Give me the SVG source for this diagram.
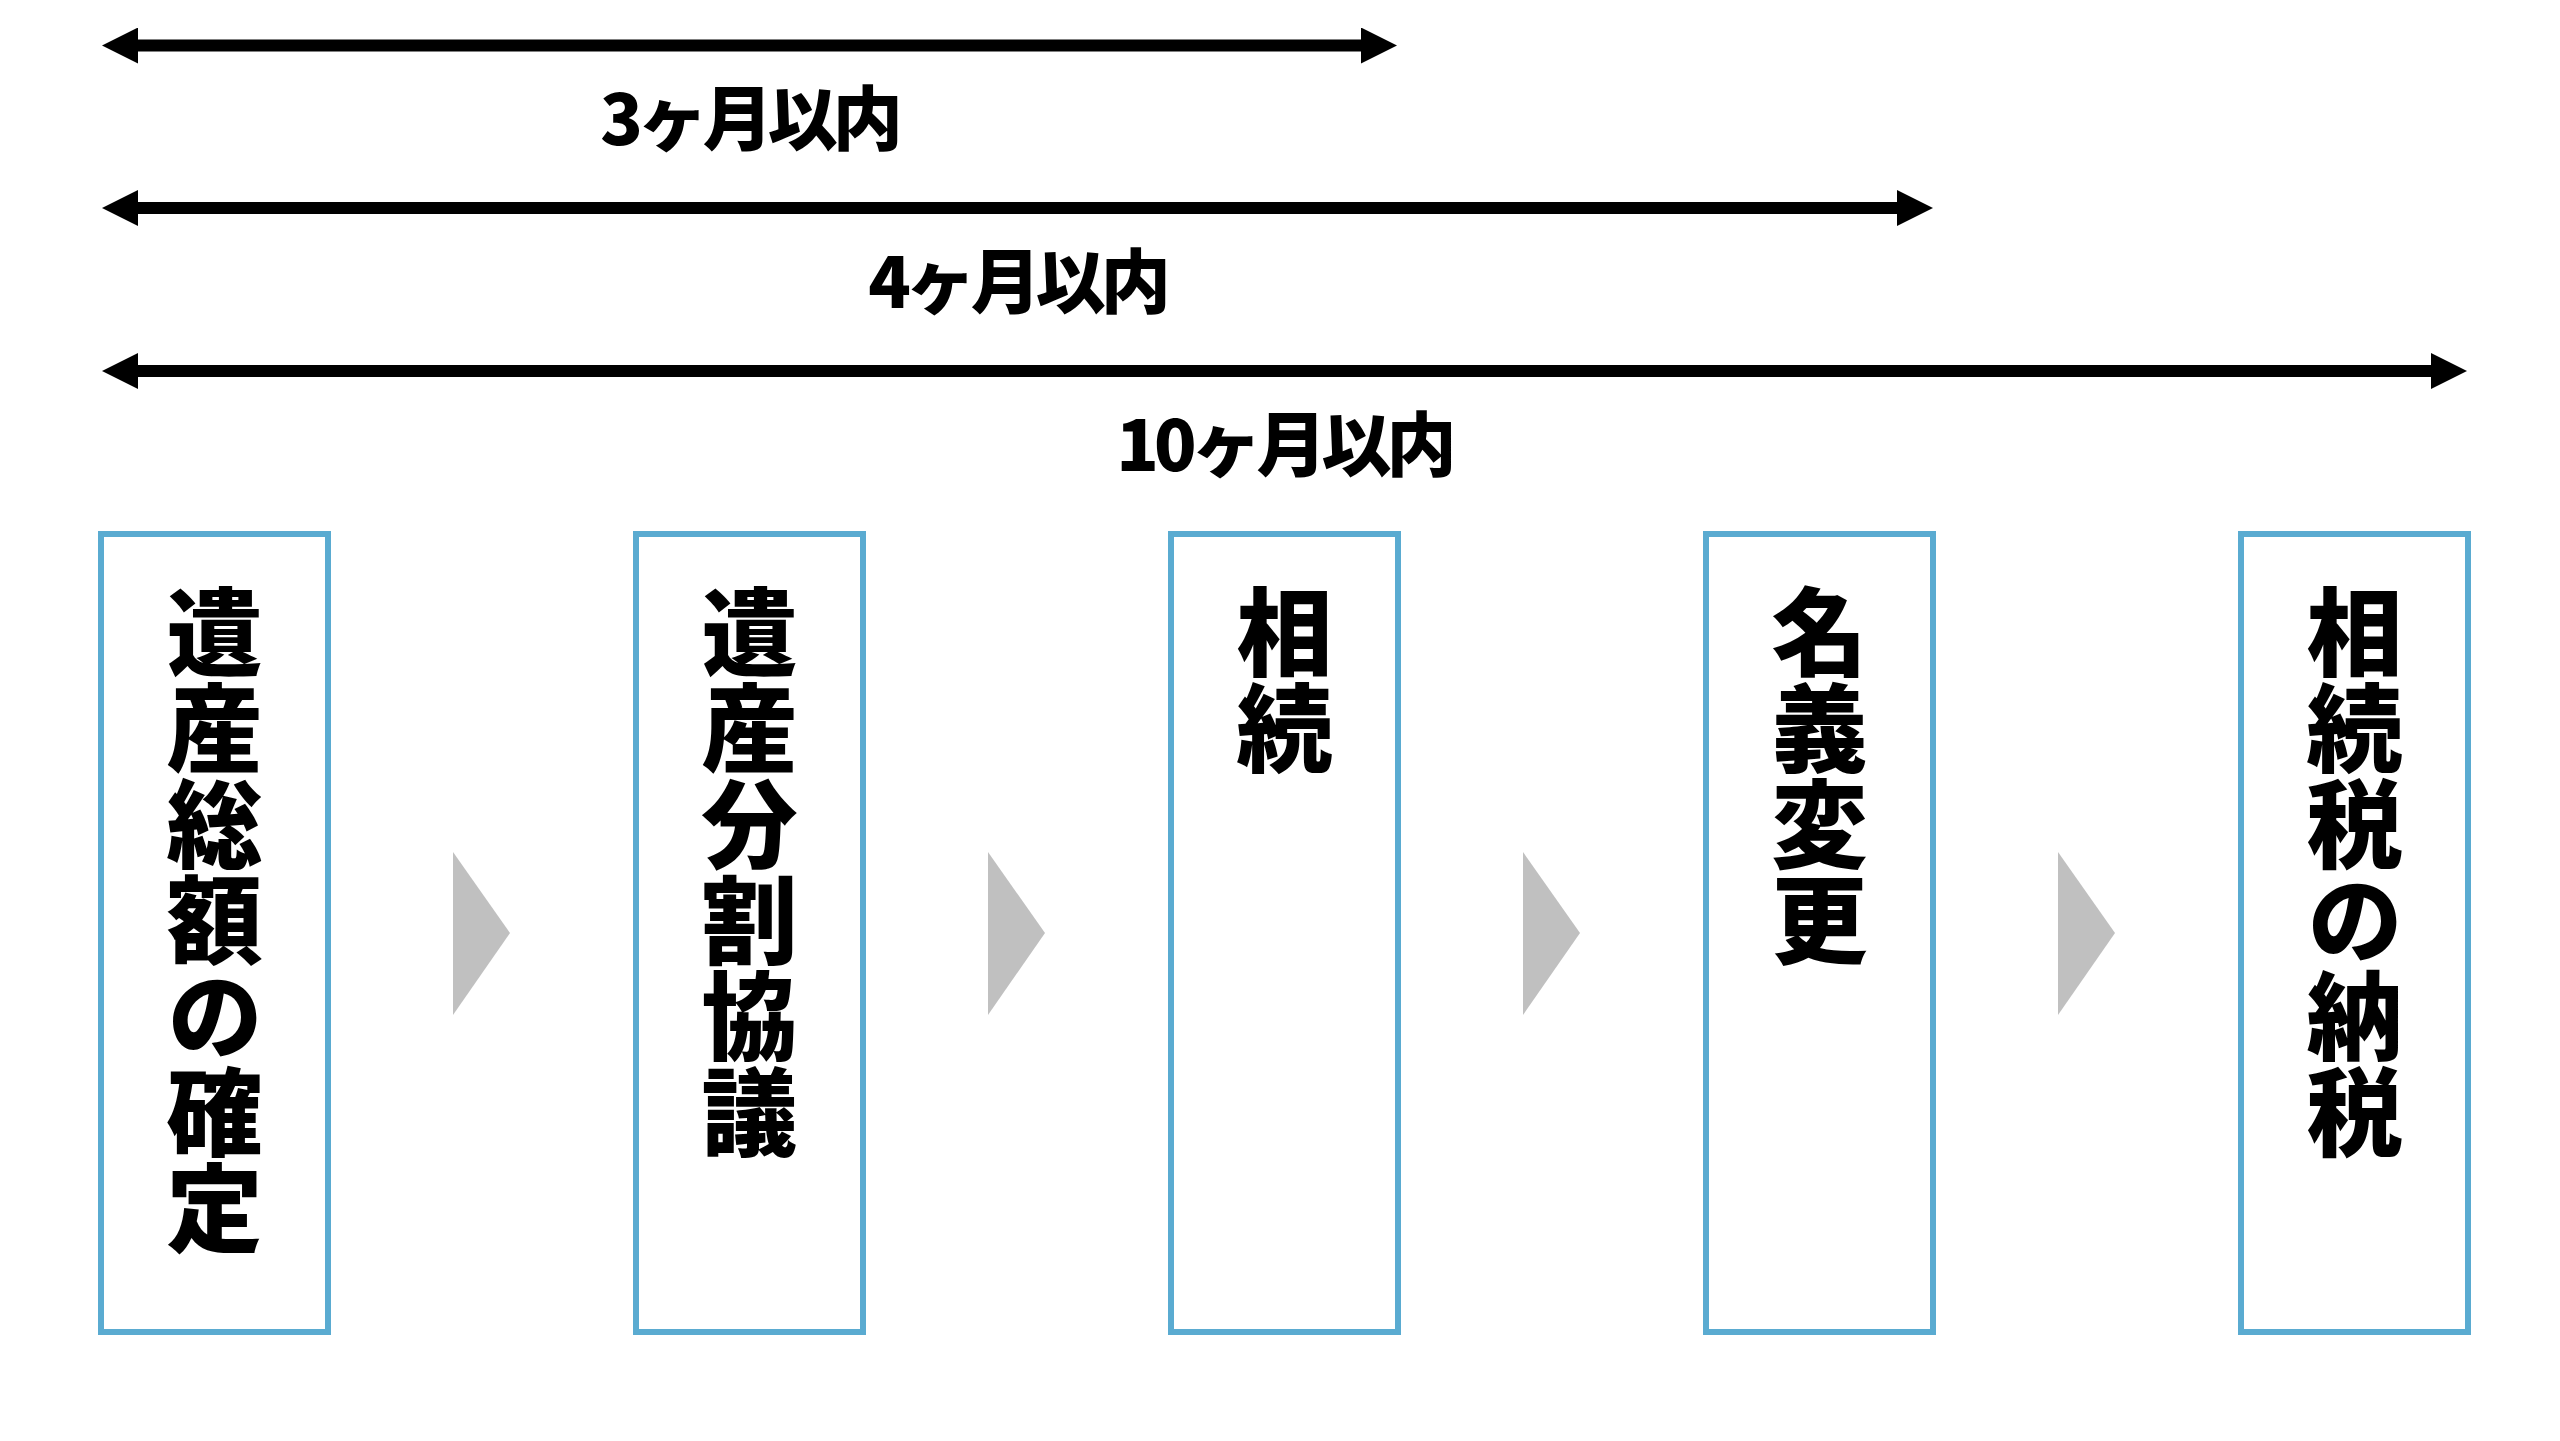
<svg xmlns="http://www.w3.org/2000/svg" width="2560" height="1441" viewBox="0 0 2560 1441">
<defs>
<style>
.box{fill:#fff;stroke:#5aabd1;stroke-width:6}
.lbl{font-family:"Noto Sans CJK JP","Noto Sans",sans-serif;font-weight:900;fill:#000}
.top{font-size:70px;letter-spacing:-5px;text-anchor:middle}
.vt{font-size:96px;writing-mode:vertical-rl;text-orientation:upright;text-anchor:start}
.span{stroke:#000;stroke-width:12;fill:none}
.chev{fill:#c0c0c0}
</style>
<marker id="ah" markerUnits="userSpaceOnUse" markerWidth="36" markerHeight="36" viewBox="0 0 36 36" refX="6" refY="18" orient="auto-start-reverse">
<path d="M0,0 L36,18 L0,36 z" fill="#000"/>
</marker>
<polygon id="chv" points="0,0 57,81 0,163"/>
</defs>
<rect width="2560" height="1441" fill="#fff"/>
<g id="connectors">
<line class="span" x1="132" y1="45.5" x2="1367" y2="45.5" marker-start="url(#ah)" marker-end="url(#ah)"/>
<line class="span" x1="132" y1="208" x2="1903" y2="208" marker-start="url(#ah)" marker-end="url(#ah)"/>
<line class="span" x1="132" y1="371" x2="2437" y2="371" marker-start="url(#ah)" marker-end="url(#ah)"/>
<use href="#chv" class="chev" x="453" y="852"/>
<use href="#chv" class="chev" x="988" y="852"/>
<use href="#chv" class="chev" x="1523" y="852"/>
<use href="#chv" class="chev" x="2058" y="852"/>
</g>
<g id="labels">
<text class="lbl top" x="749" y="145">3ヶ月以内</text>
<text class="lbl top" x="1017" y="308">4ヶ月以内</text>
<text class="lbl top" x="1284" y="471">10ヶ月以内</text>
</g>
<g id="node1">
<rect class="box" x="101" y="534" width="227" height="798"/>
<text class="lbl vt" x="214.5" y="584">遺産総額の確定</text>
</g>
<g id="node2">
<rect class="box" x="636" y="534" width="227" height="798"/>
<text class="lbl vt" x="749.5" y="584">遺産分割協議</text>
</g>
<g id="node3">
<rect class="box" x="1171" y="534" width="227" height="798"/>
<text class="lbl vt" x="1284.5" y="584">相続</text>
</g>
<g id="node4">
<rect class="box" x="1706" y="534" width="227" height="798"/>
<text class="lbl vt" x="1819.5" y="584">名義変更</text>
</g>
<g id="node5">
<rect class="box" x="2241" y="534" width="227" height="798"/>
<text class="lbl vt" x="2354.5" y="584">相続税の納税</text>
</g>
</svg>
